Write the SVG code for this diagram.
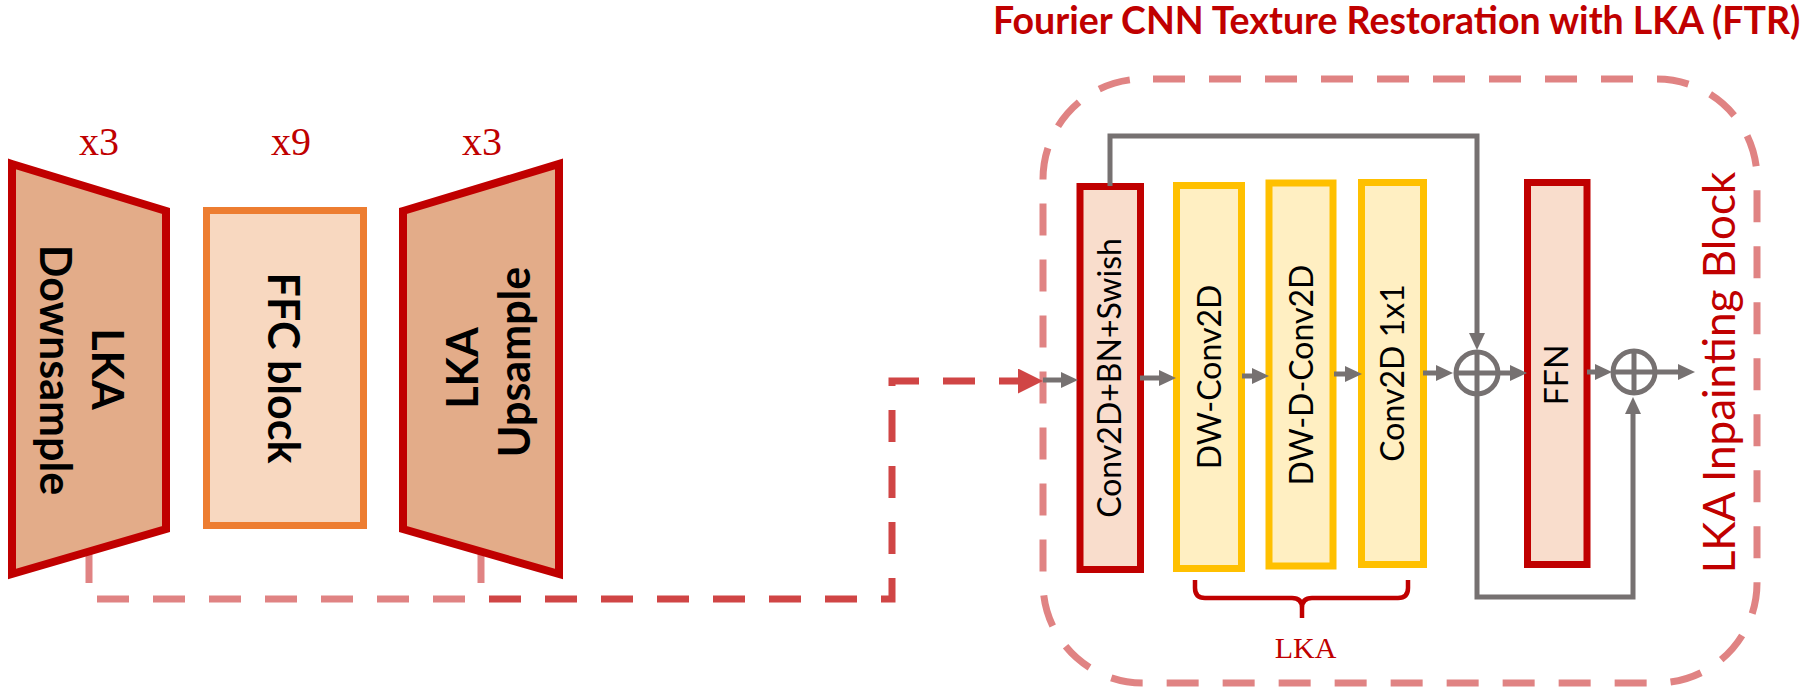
<svg xmlns="http://www.w3.org/2000/svg" width="1804" height="692" viewBox="0 0 1804 692">
  <style>
    .trap { fill: #E3AC89; stroke: #C00000; stroke-width: 8; stroke-linejoin: miter; }
    .ffc { fill: #F8D8C0; stroke: #ED7D31; stroke-width: 7; }
    .redbox { fill: #F9DDCC; stroke: #C00000; stroke-width: 7; }
    .ybox { fill: #FFEFC2; stroke: #FFC000; stroke-width: 7; }
    .big { font-family: Lato, "Open Sans", sans-serif; font-weight: bold; font-size: 43px; fill: #000; }
    .lbl { font-family: Lato, "Open Sans", sans-serif; font-size: 32px; fill: #000; }
    .rep { font-family: "Liberation Serif", serif; font-size: 40px; fill: #C00000; }
    .title { font-family: Lato, "Open Sans", sans-serif; font-weight: bold; font-size: 37.5px; fill: #C00000; }
    .side { font-family: Lato, "Open Sans", sans-serif; font-size: 44px; fill: #C00000; }
    .lka { font-family: "Liberation Serif", serif; font-size: 30px; fill: #C00000; }
    .flow { fill: none; stroke: #767171; stroke-width: 5; }
    .sum { fill: none; stroke: #767171; stroke-width: 5; }
    .dash-light { fill: none; stroke: #E08383; stroke-width: 7; stroke-dasharray: 32 24; }
    .dash-dark { fill: none; stroke: #D04545; stroke-width: 7; stroke-dasharray: 32 24; }
    .stub { stroke: #E08383; stroke-width: 7; }
  </style>
  <defs>
    <marker id="gray-arrow" viewBox="0 0 17 16" refX="0" refY="8" markerWidth="17" markerHeight="16" markerUnits="userSpaceOnUse" orient="auto">
      <path d="M0,0 L17,8 L0,16 z" fill="#767171"/>
    </marker>
    <marker id="red-arrow" viewBox="0 0 25 25" refX="0" refY="12.5" markerWidth="25" markerHeight="25" markerUnits="userSpaceOnUse" orient="auto">
      <path d="M0,0 L25,12.5 L0,25 z" fill="#D04545"/>
    </marker>
  </defs>

  <!-- repeat counts -->
  <text class="rep" x="99" y="155" text-anchor="middle">x3</text>
  <text class="rep" x="291" y="155" text-anchor="middle">x9</text>
  <text class="rep" x="482" y="155" text-anchor="middle">x3</text>

  <!-- skip-connection stubs under the encoder / decoder -->
  <g id="skip-stubs">
    <line class="stub" x1="89" y1="548" x2="89" y2="583"/>
    <line class="stub" x1="481" y1="548" x2="481" y2="583"/>
  </g>

  <g id="downsample">
    <polygon class="trap" points="12,164 166,211 166,529 12,574"/>
    <text class="big" transform="translate(92,369) rotate(90)" text-anchor="middle">LKA</text>
    <text class="big" transform="translate(40,370) rotate(90)" text-anchor="middle">Downsample</text>
  </g>

  <g id="ffc-block">
    <rect class="ffc" x="206.5" y="210.5" width="157" height="315"/>
    <text class="big" transform="translate(268,368) rotate(90)" text-anchor="middle" font-size="42">FFC block</text>
  </g>

  <g id="upsample">
    <polygon class="trap" points="403,211 559,164 559,574 403,529"/>
    <text class="big" transform="translate(478,368) rotate(-90)" text-anchor="middle">LKA</text>
    <text class="big" transform="translate(530,362) rotate(-90)" text-anchor="middle">Upsample</text>
  </g>

  <!-- FTR module -->
  <text class="title" x="993" y="34">Fourier CNN Texture Restoration with LKA (FTR)</text>
  <rect id="ftr-frame" x="1043" y="79" width="714" height="604" rx="100" ry="100" class="dash-light" stroke-dashoffset="-10"/>
  <text class="side" transform="translate(1735,372.5) rotate(-90)" text-anchor="middle">LKA Inpainting Block</text>

  <g id="conv-bn-swish">
    <rect class="redbox" x="1080" y="186.5" width="60.5" height="383"/>
    <text class="lbl" transform="translate(1121,378) rotate(-90)" text-anchor="middle" font-size="30.5">Conv2D+BN+Swish</text>
  </g>
  <g id="dw-conv">
    <rect class="ybox" x="1176.5" y="185.5" width="65" height="383"/>
    <text class="lbl" transform="translate(1221,377) rotate(-90)" text-anchor="middle" font-size="31">DW-Conv2D</text>
  </g>
  <g id="dw-d-conv">
    <rect class="ybox" x="1269" y="183" width="64" height="383"/>
    <text class="lbl" transform="translate(1313,375) rotate(-90)" text-anchor="middle">DW-D-Conv2D</text>
  </g>
  <g id="conv-1x1">
    <rect class="ybox" x="1361.5" y="182.5" width="62" height="382"/>
    <text class="lbl" transform="translate(1404,373) rotate(-90)" text-anchor="middle" font-size="33">Conv2D 1x1</text>
  </g>
  <g id="ffn">
    <rect class="redbox" x="1527.5" y="182.5" width="59.5" height="382"/>
    <text class="lbl" transform="translate(1568,375) rotate(-90)" text-anchor="middle">FFN</text>
  </g>

  <g id="add-1">
    <circle class="sum" cx="1477" cy="373" r="21"/>
    <path class="sum" d="M1456,373 H1498 M1477,352 V394"/>
  </g>
  <g id="add-2">
    <circle class="sum" cx="1634" cy="372" r="21"/>
    <path class="sum" d="M1613,372 H1655 M1634,351 V393"/>
  </g>

  <g id="lka-brace">
    <path d="M1195,580 V588 Q1195,598 1205,598 H1292 Q1302,598 1302,608 V618 M1302,608 Q1302,598 1312,598 H1398 Q1408,598 1408,588 V580" fill="none" stroke="#C00000" stroke-width="4.5"/>
    <text class="lka" x="1305.5" y="658" text-anchor="middle">LKA</text>
  </g>

  <g id="connectors">
    <path class="dash-light" d="M97,599 H466"/>
    <path class="dash-dark" d="M489,599 H892 V381 H1018" marker-end="url(#red-arrow)"/>
    <path class="flow" d="M1043,380 H1061" marker-end="url(#gray-arrow)"/>
    <path class="flow" d="M1140,378 H1159" marker-end="url(#gray-arrow)"/>
    <path class="flow" d="M1242,376 H1252" marker-end="url(#gray-arrow)"/>
    <path class="flow" d="M1334,374 H1345" marker-end="url(#gray-arrow)"/>
    <path class="flow" d="M1423,373 H1436" marker-end="url(#gray-arrow)"/>
    <path class="flow" d="M1500,373 H1510" marker-end="url(#gray-arrow)"/>
    <path class="flow" d="M1110,186 V136 H1477 V333" marker-end="url(#gray-arrow)"/>
    <path class="flow" d="M1477,396 V597 H1633 V414" marker-end="url(#gray-arrow)"/>
    <path class="flow" d="M1587,372 H1595" marker-end="url(#gray-arrow)"/>
    <path class="flow" d="M1657,372 H1678" marker-end="url(#gray-arrow)"/>
  </g>
</svg>
